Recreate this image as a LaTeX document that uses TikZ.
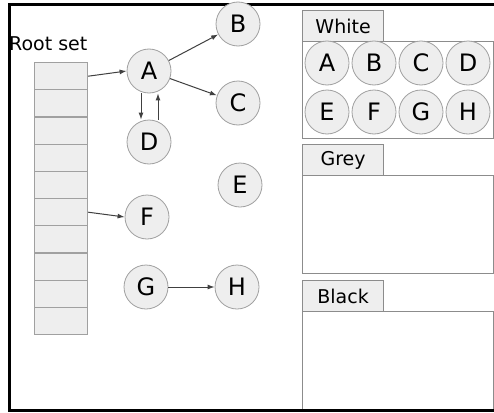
\documentclass[tikz,border=0pt]{standalone}
\usepackage{fontspec}
\setmainfont{DejaVu Sans}
\usetikzlibrary{arrows.meta}
\definecolor{cfill}{HTML}{EEEEEE}
\definecolor{cline}{HTML}{A0A0A0}
\definecolor{pline}{HTML}{8C8C8C}
\begin{document}
\begin{tikzpicture}[x=1pt,y=-1pt,
  obj/.style={circle,draw=cline,fill=cfill,line width=0.8pt,minimum size=44pt,inner sep=0pt,font=\fontsize{24}{28}\selectfont},
  cell/.style={draw=cline,fill=cfill,line width=1.2pt,minimum width=53pt,minimum height=27.2pt,inner sep=0pt,anchor=north west},
  tab/.style={draw=pline,fill=cfill,line width=1.2pt,minimum width=81pt,minimum height=31pt,inner sep=0pt,anchor=north west,font=\fontsize{19}{22}\selectfont},
  panel/.style={draw=pline,fill=white,line width=1.2pt,inner sep=0pt},
  ref/.style={-{Latex[length=7pt,width=5pt]},line width=1pt,draw=black!75},
  lbl/.style={font=\fontsize{19}{22}\selectfont,inner sep=0pt}]
\useasboundingbox (0,0) rectangle (494,412);
\fill[white] (0,0) rectangle (494,412);
\draw[line width=3pt] (9,5) rectangle (510,410);
% root set
\node[lbl,anchor=west] (rootlbl) at (9,44) {Root set};
\foreach \i in {1,...,10} {
  \node[cell] (r\i) at (34,{62+(\i-1)*27.2}) {};
}
% objects
\node[obj] (A) at (149,71) {A};
\node[obj] (B) at (238,24) {B};
\node[obj] (C) at (238,103) {C};
\node[obj] (D) at (149,142) {D};
\node[obj] (E) at (240,185) {E};
\node[obj] (F) at (147,217) {F};
\node[obj] (G) at (146,287) {G};
\node[obj] (H) at (237,287) {H};
% references
\draw[ref] (r1.east) -- (A.west);
\draw[ref] (A) -- (B);
\draw[ref] (A) -- (C);
\draw[ref] ([xshift=-8pt]A.south) -- ([xshift=-8pt]D.north);
\draw[ref] ([xshift=9pt]D.north) -- ([xshift=9pt]A.south);
\draw[ref] (r6.east) -- (F.west);
\draw[ref] (G) -- (H);
% panels
\node[panel,minimum width=191pt,minimum height=97pt,anchor=north west] (wbox) at (302,41) {};
\node[tab] (wtab) at (302,10) {White};
\node[panel,minimum width=191pt,minimum height=98pt,anchor=north west] (gbox) at (302,175) {};
\node[tab] (gtab) at (302,144) {Grey};
\node[panel,minimum width=191pt,minimum height=100pt,anchor=north west] (bbox) at (302,311) {};
\node[tab] (btab) at (302,280) {Black};
% white set
\node[obj] (wA) at (327,63) {A};
\node[obj] (wB) at (374,63) {B};
\node[obj] (wC) at (421,63) {C};
\node[obj] (wD) at (468,63) {D};
\node[obj] (wE) at (327,112) {E};
\node[obj] (wF) at (374,112) {F};
\node[obj] (wG) at (421,112) {G};
\node[obj] (wH) at (468,112) {H};
\draw[line width=3pt] (9,410) -- (510,410);
\end{tikzpicture}
\end{document}
